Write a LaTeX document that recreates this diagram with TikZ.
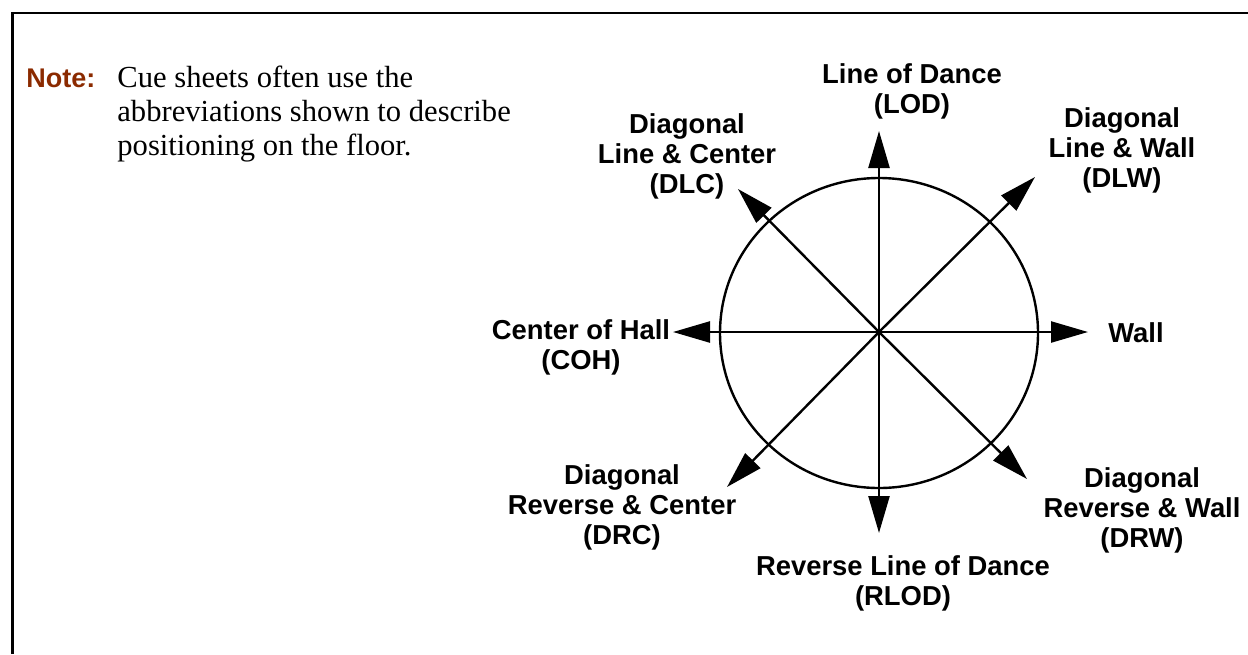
\documentclass[tikz,border=0pt]{standalone}
\usepackage{fontspec}
\setmainfont{Liberation Serif}
\setsansfont{Liberation Sans}
\usetikzlibrary{arrows.meta}
\definecolor{notebrown}{RGB}{139,42,0}

\tikzset{
  lbl/.style={font=\sffamily\bfseries\fontsize{13.7}{15}\selectfont, align=center, inner sep=0pt, anchor=north},
  dir/.style={black, line width=1.2pt, -{Triangle[length=18.5pt,width=10.5pt]}}
}

\begin{document}
\begin{tikzpicture}[x=0.5pt,y=-0.5pt]
        % \draw[help lines,step=50] (0,0) grid (1248,654);
        \useasboundingbox (0,0) rectangle (1248,654);
        \draw[black,line width=1.4pt] (12.5,654) -- (12.5,13) -- (1248,13);

        \node[font=\sffamily\bfseries\fontsize{13.5}{15}\selectfont, text=notebrown, inner sep=0pt, anchor=base west] (note) at (26,87) {Note:};
        \node[font=\fontsize{15.3}{17}\selectfont, align=left, inner sep=0pt, anchor=north west] (notetext) at (117,66)
            {Cue sheets often use the\\abbreviations shown to describe\\positioning on the floor.};

        \coordinate (O) at (879,332);
        \coordinate (LOD) at (879,131);
        \coordinate (RLOD) at (879,533);
        \coordinate (COH) at (673,332);
        \coordinate (W) at (1088,332);
        \coordinate (DLW) at (1035,177);
        \coordinate (DLC) at (738,189);
        \coordinate (DRC) at (727,487);
        \coordinate (DRW) at (1027,479);

        \draw[black,line width=1.2pt] (879,333) ellipse [x radius=159, y radius=155];

        \draw[dir] (O)--(LOD);
        \draw[dir] (O)--(RLOD);
        \draw[dir] (O)--(COH);
        \draw[dir] (O)--(W);
        \draw[dir] (O)--(DLW);
        \draw[dir] (O)--(DLC);
        \draw[dir] (O)--(DRC);
        \draw[dir] (O)--(DRW);

        \node[lbl] (lodtext) at (912,63) {Line of Dance\\(LOD)};
        \node[lbl] (dlctext) at (687,113) {Diagonal\\Line \& Center\\(DLC)};
        \node[lbl] (dlwtext) at (1122,107) {Diagonal\\Line \& Wall\\(DLW)};
        \node[lbl] (walltext) at (1136,322) {Wall};
        \node[lbl] (cohtext) at (581,319) {Center of Hall\\(COH)};
        \node[lbl] (drctext) at (622,464) {Diagonal\\Reverse \& Center\\(DRC)};
        \node[lbl] (drwtext) at (1142,467) {Diagonal\\Reverse \& Wall\\(DRW)};
        \node[lbl] (rlodtext) at (903,555) {Reverse Line of Dance\\(RLOD)};
    \end{tikzpicture}
\end{document}
